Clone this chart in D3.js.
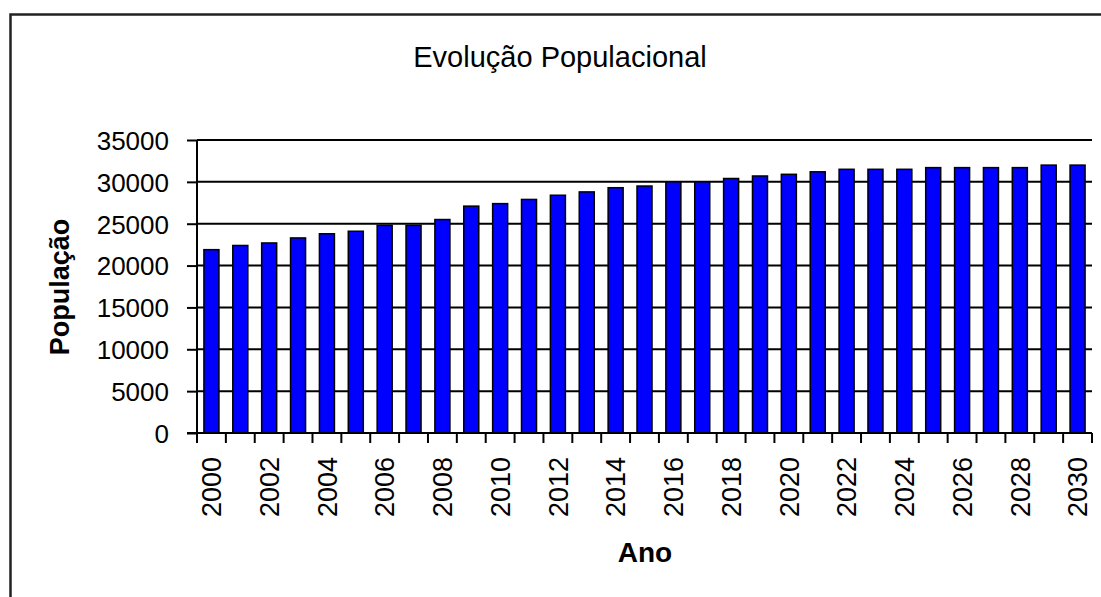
<!DOCTYPE html>
<html>
<head>
<meta charset="utf-8">
<script src="https://cdn.jsdelivr.net/npm/d3@7"></script>
<style>
  html, body { margin: 0; padding: 0; background: #fff; }
  svg { display: block; }
  text { font-family: "Liberation Sans", Arial, sans-serif; fill: #000; }
</style>
</head>
<body>
<svg id="chart" width="1101" height="597"></svg>
<script>
// Population by year, 2000–2030
const years = d3.range(2000, 2031).map(String);
const population = [
  21900, 22400, 22700, 23300, 23800, 24100, 24800, 24800, 25500, 27100,
  27400, 27900, 28400, 28800, 29300, 29500, 30000, 30000, 30400, 30700,
  30900, 31200, 31500, 31500, 31500, 31700, 31700, 31700, 31700, 32000,
  32000
];
const yTicks = [0, 5000, 10000, 15000, 20000, 25000, 30000, 35000];
const xLabelYears = years.filter((d, i) => i % 2 === 0);

const titleText = "Evolução Populacional";
const xTitle = "Ano";
const yTitle = "População";

const svg = d3.select("#chart");

// Outer chart frame (open on the right and bottom edges of the view)
svg.append("rect")
  .attr("x", 10.5).attr("y", 14.5)
  .attr("width", 1200).attr("height", 700)
  .attr("fill", "#fff")
  .attr("stroke", "#222").attr("stroke-width", 2.5);

const plot = { left: 197, right: 1092, top: 140, bottom: 433 };

const x = d3.scaleBand()
  .domain(years)
  .range([plot.left, plot.right])
  .paddingInner(0.48)
  .paddingOuter(0.24);

const y = d3.scaleLinear()
  .domain([0, 35000])
  .range([plot.bottom, plot.top]);

// Horizontal gridlines
svg.append("g")
  .selectAll("line")
  .data(yTicks.filter(d => d > 0))
  .join("line")
  .attr("x1", plot.left).attr("x2", plot.right)
  .attr("y1", d => y(d)).attr("y2", d => y(d))
  .attr("stroke", "#000").attr("stroke-width", 2);

// Bars
svg.append("g")
  .selectAll("rect")
  .data(population)
  .join("rect")
  .attr("x", (d, i) => x(years[i]))
  .attr("y", d => y(d))
  .attr("width", x.bandwidth())
  .attr("height", d => y(0) - y(d))
  .attr("fill", "#0000ff")
  .attr("stroke", "#000").attr("stroke-width", 1.5);

// Y axis
const yAxis = d3.axisLeft(y)
  .tickValues(yTicks)
  .tickSize(10)
  .tickPadding(18)
  .tickFormat(d3.format("d"));
const gy = svg.append("g")
  .attr("transform", `translate(${plot.left},0)`)
  .call(yAxis);
gy.select(".domain").attr("stroke", "#000").attr("stroke-width", 2)
  .attr("d", `M0,${plot.top}V${plot.bottom}`);
gy.selectAll(".tick line").attr("stroke", "#000").attr("stroke-width", 2);
gy.selectAll(".tick text")
  .style("font-family", "'Liberation Sans', Arial, sans-serif")
  .style("font-size", "26px")
  .attr("fill", "#000")
  .attr("dy", "0.36em");

// X axis line and tick marks at category boundaries
const step = x.step();
const boundaries = d3.range(years.length + 1).map(i => x(years[0]) - x.paddingOuter() * step + i * step);
const gx = svg.append("g");
gx.append("line")
  .attr("x1", plot.left - 10).attr("x2", plot.right)
  .attr("y1", plot.bottom).attr("y2", plot.bottom)
  .attr("stroke", "#000").attr("stroke-width", 2);
gx.selectAll("line.tick")
  .data(boundaries)
  .join("line")
  .attr("class", "tick")
  .attr("x1", d => d).attr("x2", d => d)
  .attr("y1", plot.bottom).attr("y2", plot.bottom + 10)
  .attr("stroke", "#000").attr("stroke-width", 2);

// Rotated year labels, every second year
gx.selectAll("text")
  .data(xLabelYears)
  .join("text")
  .attr("transform", d => `translate(${x(d) + x.bandwidth() / 2},457) rotate(-90)`)
  .attr("text-anchor", "end")
  .attr("dy", "0.36em")
  .style("font-size", "27px")
  .text(d => d);

// Title
svg.append("text")
  .attr("x", 560).attr("y", 67)
  .attr("text-anchor", "middle")
  .style("font-size", "29px")
  .text(titleText);

// Axis titles
svg.append("text")
  .attr("x", 645).attr("y", 562)
  .attr("text-anchor", "middle")
  .style("font-size", "28px")
  .style("font-weight", "bold")
  .text(xTitle);

svg.append("text")
  .attr("transform", "translate(59,287) rotate(-90)")
  .attr("text-anchor", "middle")
  .attr("dy", "0.36em")
  .style("font-size", "27px")
  .style("font-weight", "bold")
  .text(yTitle);
</script>
</body>
</html>
